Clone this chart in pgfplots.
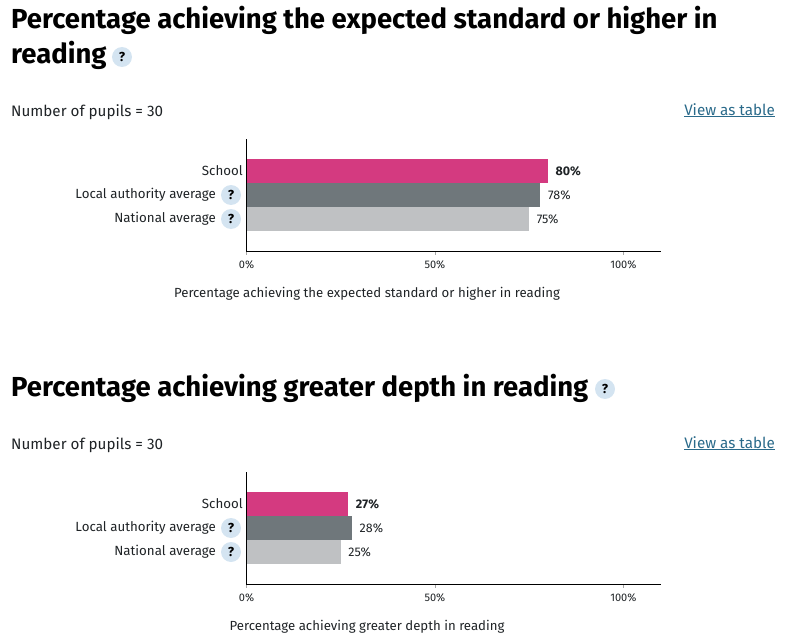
\documentclass[border=0pt]{standalone}
\usepackage{pgfplots}
\pgfplotsset{compat=1.18}
\usepackage{fontspec}
\setmainfont{Fira Sans}
\definecolor{txt}{HTML}{1F2326}
\definecolor{pinkb}{HTML}{D43A80}
\definecolor{darkb}{HTML}{6F777B}
\definecolor{lightb}{HTML}{BFC1C3}
\definecolor{badge}{HTML}{D4E4F1}
\definecolor{linkc}{HTML}{2A6A8A}
\newcommand{\badge}[2]{\node[circle,fill=badge,minimum size=20pt,inner sep=0pt,text=black,font=\fontsize{13}{13}\selectfont\bfseries] at (#1pt,-#2pt) {?};}
\pgfplotsset{
  myaxis/.style={
    anchor=south west,
    scale only axis, width=414.5pt, height=112.5pt,
    xmin=0, xmax=110, ymin=-1.354, ymax=3.333,
    axis lines=left, axis line style={-,black,line width=0.9pt},
    xtick={0,50,100}, xticklabels={0\%,50\%,100\%},
    ytick={0,1,2},
    y tick style={draw=none},
    x tick style={draw=black!35,line width=0.5pt},
    tick align=outside, major tick length=3pt,
    x tick label style={font=\fontsize{11}{12}\selectfont,text=txt,yshift=-3pt},
    y tick label style={font=\fontsize{13.3}{16}\selectfont,text=txt,inner sep=0pt,xshift=-0.5pt,yshift=0.5pt},
    clip=false,
    xbar, bar shift=0pt, bar width=24pt,
    point meta=x,
    /pgf/number format/assume math mode=true,
    nodes near coords={\pgfmathprintnumber{\pgfplotspointmeta}\%},
    nodes near coords align={horizontal},
    every node near coord/.append style={font=\fontsize{12.5}{13}\selectfont,text=txt,inner sep=0pt,xshift=7.5pt,anchor=west},
  },
}
\begin{document}
\begin{tikzpicture}[x=1pt,y=1pt]
\path (0,0) rectangle (801,-642);
\begin{axis}[myaxis, at={(246.5pt,-251.5pt)},
  yticklabels={National average\rule{27pt}{0pt},Local authority average\rule{27pt}{0pt},School}]
\addplot[fill=lightb,draw=none] coordinates {(75,0)};
\addplot[fill=darkb,draw=none] coordinates {(78,1)};
\addplot[fill=pinkb,draw=none,every node near coord/.append style={font=\fontsize{12.5}{13}\selectfont\bfseries}] coordinates {(80,2)};
\end{axis}
\begin{axis}[myaxis, at={(246.5pt,-584.5pt)},
  yticklabels={National average\rule{27pt}{0pt},Local authority average\rule{27pt}{0pt},School}]
\addplot[fill=lightb,draw=none] coordinates {(25,0)};
\addplot[fill=darkb,draw=none] coordinates {(28,1)};
\addplot[fill=pinkb,draw=none,every node near coord/.append style={font=\fontsize{12.5}{13}\selectfont\bfseries}] coordinates {(27,2)};
\end{axis}
\badge{122}{57}\badge{231}{195}\badge{231}{219}
\badge{605}{389}\badge{231}{528}\badge{231}{552}
\tikzset{ttl/.style={anchor=base west,inner sep=0pt,text=black,font=\fontsize{27.5}{30}\selectfont\bfseries},
 body/.style={inner sep=0pt,text=txt,font=\fontsize{15.2}{18}\selectfont},
 axt/.style={inner sep=0pt,text=txt,anchor=base,font=\fontsize{13.2}{15}\selectfont}}
\node[ttl] at (11pt,-29pt) {Percentage achieving the expected standard or higher in};
\node[ttl] at (11pt,-64pt) {reading};
\node[ttl] at (11pt,-396pt) {Percentage achieving greater depth in reading};
\node[body,anchor=base west] at (11pt,-117pt) {Number of pupils = 30};
\node[body,anchor=base west] at (11pt,-449pt) {Number of pupils = 30};
\node[body,anchor=base east,text=linkc] at (775pt,-115pt) {\underline{View as table}};
\node[body,anchor=base east,text=linkc] at (775pt,-448pt) {\underline{View as table}};
\node[axt] at (367pt,-297pt) {Percentage achieving the expected standard or higher in reading};
\node[axt] at (367pt,-630pt) {Percentage achieving greater depth in reading};
\end{tikzpicture}
\end{document}
